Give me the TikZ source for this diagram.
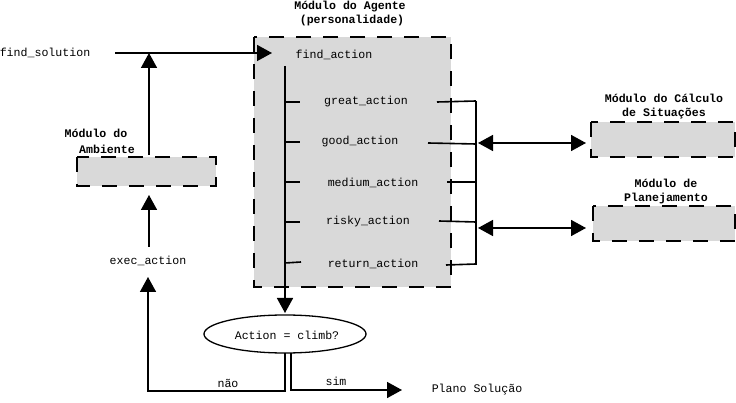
\documentclass[tikz,border=0pt]{standalone}
\usepackage{fontspec}
\setmonofont{Liberation Mono}
\usetikzlibrary{arrows.meta,shapes.geometric}
\definecolor{boxgray}{HTML}{D9D9D9}
\tikzset{
  x=1pt,y=-1pt,
  every node/.style={font=\ttfamily\fontsize{11.6}{13}\selectfont, inner sep=0pt},
  title/.style={font=\ttfamily\bfseries\fontsize{11.6}{13}\selectfont},
  modbox/.style={draw, fill=boxgray, line width=1.8pt, dash pattern=on 15pt off 12pt},
  conn/.style={line width=1.6pt},
  arr/.style={conn, -{Triangle[length=15pt,width=16pt]}},
  darr/.style={conn, {Triangle[length=15pt,width=16pt]}-{Triangle[length=15pt,width=16pt]}},
}
\begin{document}
\begin{tikzpicture}
\useasboundingbox (0,0) rectangle (736,403);
% boxes
\draw[modbox] (254,37) rectangle (451,287);
\draw[modbox] (591,122) rectangle (735,157);
\coordinate (sitL) at (586,143);
\draw[modbox] (593,206) rectangle (735,241);
\coordinate (plaL) at (586,228);
\draw[modbox] (77,157) rectangle (216,186);
% titles
\node[title] (agt1) at (350,7) {Módulo do Agente};
\node[title] (agt2) at (352,21) {(personalidade)};
\node[title] (sit1) at (664,98) {Módulo do Cálculo};
\node[title] (sit2) at (664,114) {de Situações};
\node[title] (pla1) at (666,183) {Módulo de};
\node[title] (pla2) at (666,199) {Planejamento};
\node[title] (amb1) at (96,133) {Módulo do};
\node[title] (amb2) at (107,149) {Ambiente};
% texts
\node (fsol) at (45,53) {find\_solution};
\node (fact) at (334,55) {find\_action};
\node (great) at (366,102) {great\_action};
\node (good) at (360,142) {good\_action};
\node (medium) at (373,183) {medium\_action};
\node (risky) at (368,222) {risky\_action};
\node (ret) at (373,264) {return\_action};
\node (exec) at (148,261) {exec\_action};
\node (nao) at (228,383) {não};
\node (sim) at (336,381) {sim};
\node (plano) at (477,390) {Plano Solução};
\node[draw, ellipse, line width=1.3pt, minimum width=162pt, minimum height=38pt] (dec) at (285,334) {};
\node (dectxt) at (287,335) {Action = climb?};
% coordinates
\coordinate (fsolE) at (115,53);
\coordinate (factW) at (272,53);
\coordinate (junc) at (149,53);
\coordinate (ambT) at (149,155);
\coordinate (ambB) at (149,195);
\coordinate (execT) at (149,247);
\coordinate (spineT) at (285,66);
\coordinate (spineB) at (285,313);
\coordinate (naoTop) at (285,353);
\coordinate (naoBot) at (285,391);
\coordinate (naoL) at (148,391);
\coordinate (execB) at (148,277);
\coordinate (simTop) at (291,353);
\coordinate (simBot) at (291,390);
\coordinate (simEnd) at (402,390);
\coordinate (busT) at (476,101);
\coordinate (busB) at (476,265);
% connectors
\draw[arr] (fsolE) -- (factW);
\draw[arr] (ambT) -- (junc);
\draw[arr] (execT) -- (ambB);
\draw[arr] (spineT) -- (spineB);
\foreach \y in {102,142,182,222} \draw[conn] (285,\y) -- (300,\y);
\draw[conn] (285,263) -- (301,262);
\draw[conn] (437,102) -- (476,101);
\draw[conn] (428,143) -- (476,144);
\draw[conn] (447,182) -- (476,182);
\draw[conn] (439,221) -- (476,222);
\draw[conn] (446,265) -- (476,264);
\draw[conn] (busT) -- (busB);
\draw[darr] (478,143) -- (sitL);
\draw[darr] (478,228) -- (plaL);
\draw[arr] (naoTop) -- (naoBot) -- (naoL) -- (execB);
\draw[arr] (simTop) -- (simBot) -- (simEnd);
\end{tikzpicture}
\end{document}
